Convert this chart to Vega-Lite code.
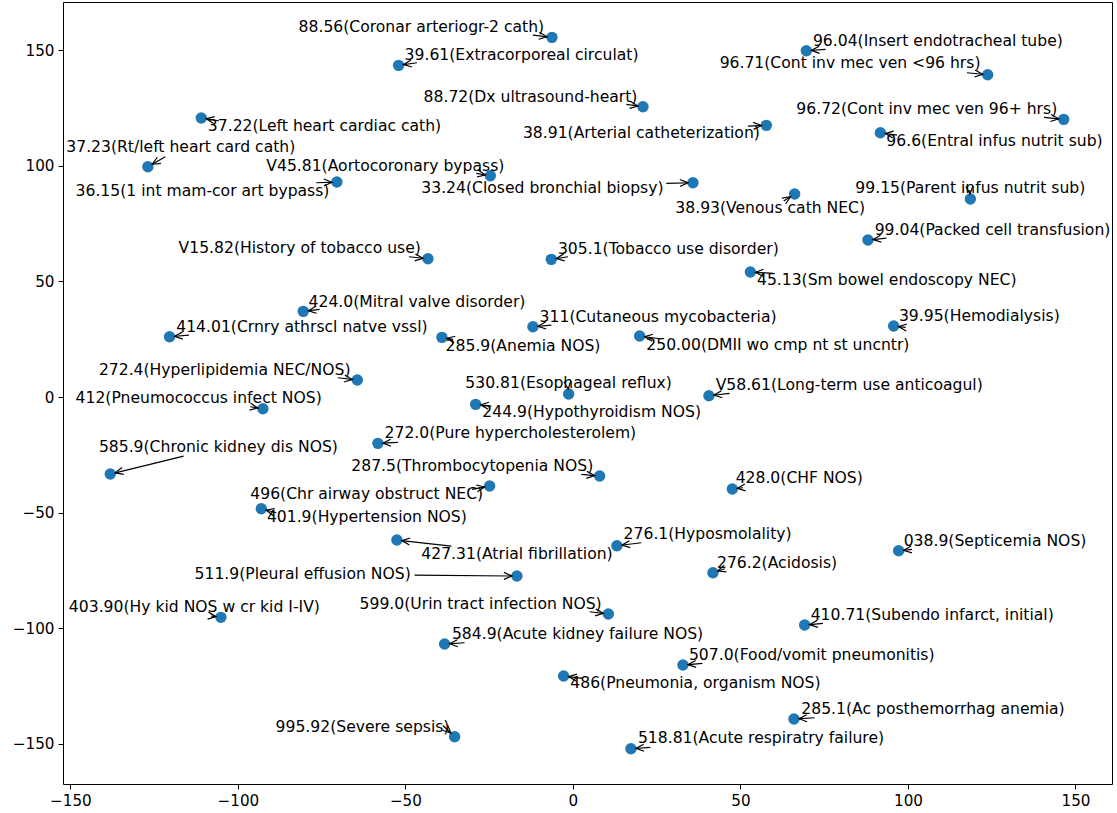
{
  "$schema": "https://vega.github.io/schema/vega-lite/v6.json",
  "width": 1049,
  "height": 782,
  "autosize": {"type": "none"},
  "padding": {"left": 63, "top": 2, "right": 5, "bottom": 29},
  "background": "white",
  "config": {
    "view": {"stroke": "black", "strokeWidth": 1},
    "font": "DejaVu Sans",
    "axis": {"domain": false, "grid": false, "ticks": true, "tickColor": "black", "tickSize": 5, "tickWidth": 1, "labelFont": "DejaVu Sans", "labelFontSize": 15.2, "labelColor": "black", "labelPadding": 4, "title": null}
  },
  "data": {"values": [
    {"label": "88.56(Coronar arteriogr-2 cath)", "x": -6.27, "y": 155.51, "tx": -81.88, "ty": 157.67, "ax": -11.94, "ay": 156.51},
    {"label": "96.04(Insert endotracheal tube)", "x": 69.67, "y": 149.72, "tx": 71.64, "ty": 151.88, "ax": 75.43, "ay": 150.32},
    {"label": "39.61(Extracorporeal circulat)", "x": -52.03, "y": 143.41, "tx": -50.24, "ty": 145.91, "ax": -46.57, "ay": 144.53},
    {"label": "96.71(Cont inv mec ven <96 hrs)", "x": 123.79, "y": 139.34, "tx": 43.79, "ty": 142.11, "ax": 117.61, "ay": 140.21},
    {"label": "88.72(Dx ultrasound-heart)", "x": 20.9, "y": 125.51, "tx": -44.57, "ty": 127.67, "ax": 15.94, "ay": 126.55},
    {"label": "37.22(Left heart cardiac cath)", "x": -110.93, "y": 120.62, "tx": -108.96, "ty": 115.0, "ax": -105.67, "ay": 119.46},
    {"label": "96.72(Cont inv mec ven 96+ hrs)", "x": 146.48, "y": 120.06, "tx": 66.69, "ty": 122.35, "ax": 140.6, "ay": 120.93},
    {"label": "38.91(Arterial catheterization)", "x": 57.73, "y": 117.47, "tx": -14.93, "ty": 111.85, "ax": 52.24, "ay": 117.16},
    {"label": "96.6(Entral infus nutrit sub)", "x": 91.76, "y": 114.27, "tx": 93.55, "ty": 108.65, "ax": 96.72, "ay": 113.27},
    {"label": "37.23(Rt/left heart card cath)", "x": -126.87, "y": 99.57, "tx": -151.22, "ty": 106.05, "ax": -121.67, "ay": 103.89},
    {"label": "V45.81(Aortocoronary bypass)", "x": -24.66, "y": 95.68, "tx": -91.52, "ty": 97.71, "ax": -28.84, "ay": 96.71},
    {"label": "36.15(1 int mam-cor art bypass)", "x": -70.45, "y": 92.95, "tx": -148.45, "ty": 87.03, "ax": -76.6, "ay": 92.65},
    {"label": "33.24(Closed bronchial biopsy)", "x": 35.82, "y": 92.65, "tx": -45.25, "ty": 88.07, "ax": 27.88, "ay": 92.39},
    {"label": "99.15(Parent infus nutrit sub)", "x": 118.63, "y": 85.6, "tx": 84.3, "ty": 88.07, "ax": 118.42, "ay": 89.49},
    {"label": "38.93(Venous cath NEC)", "x": 66.18, "y": 87.77, "tx": 30.57, "ty": 79.68, "ax": 62.9, "ay": 84.74},
    {"label": "99.04(Packed cell transfusion)", "x": 88.06, "y": 67.88, "tx": 90.06, "ty": 70.04, "ax": 93.55, "ay": 68.74},
    {"label": "V15.82(History of tobacco use)", "x": -43.28, "y": 59.79, "tx": -117.7, "ty": 62.13, "ax": -48.96, "ay": 60.66},
    {"label": "305.1(Tobacco use disorder)", "x": -6.45, "y": 59.53, "tx": -4.48, "ty": 61.82, "ax": -1.49, "ay": 60.66},
    {"label": "45.13(Sm bowel endoscopy NEC)", "x": 52.96, "y": 54.04, "tx": 54.93, "ty": 48.42, "ax": 59.7, "ay": 53.48},
    {"label": "424.0(Mitral valve disorder)", "x": -80.48, "y": 37.05, "tx": -78.9, "ty": 39.04, "ax": -75.61, "ay": 37.92},
    {"label": "414.01(Crnry athrscl natve vssl)", "x": -120.39, "y": 26.07, "tx": -118.39, "ty": 28.23, "ax": -114.63, "ay": 26.81},
    {"label": "311(Cutaneous mycobacteria)", "x": -11.94, "y": 30.39, "tx": -9.94, "ty": 32.56, "ax": -6.45, "ay": 31.13},
    {"label": "39.95(Hemodialysis)", "x": 95.73, "y": 30.7, "tx": 97.31, "ty": 32.99, "ax": 99.31, "ay": 30.13},
    {"label": "285.9(Anemia NOS)", "x": -39.1, "y": 25.81, "tx": -38.0, "ty": 20.02, "ax": -35.82, "ay": 24.95},
    {"label": "250.00(DMII wo cmp nt st uncntr)", "x": 19.91, "y": 26.37, "tx": 21.91, "ty": 20.32, "ax": 26.09, "ay": 25.21},
    {"label": "272.4(Hyperlipidemia NEC/NOS)", "x": -64.36, "y": 7.35, "tx": -141.49, "ty": 9.51, "ax": -70.15, "ay": 8.34},
    {"label": "530.81(Esophageal reflux)", "x": -1.28, "y": 1.3, "tx": -32.12, "ty": 3.76, "ax": -1.49, "ay": 4.45},
    {"label": "V58.61(Long-term use anticoagul)", "x": 40.6, "y": 0.56, "tx": 42.6, "ty": 3.03, "ax": 46.78, "ay": 1.6},
    {"label": "412(Pneumococcus infect NOS)", "x": -92.54, "y": -5.06, "tx": -148.45, "ty": -2.72, "ax": -96.3, "ay": -4.19},
    {"label": "244.9(Hypothyroidism NOS)", "x": -29.04, "y": -3.16, "tx": -27.04, "ty": -8.52, "ax": -24.36, "ay": -3.89},
    {"label": "585.9(Chronic kidney dis NOS)", "x": -138.09, "y": -33.29, "tx": -141.49, "ty": -23.65, "ax": -116.21, "ay": -25.51},
    {"label": "272.0(Pure hypercholesterolem)", "x": -58.21, "y": -20.02, "tx": -56.21, "ty": -17.86, "ax": -52.24, "ay": -19.58},
    {"label": "287.5(Thrombocytopenia NOS)", "x": 7.97, "y": -34.15, "tx": -66.15, "ty": -31.99, "ax": 2.51, "ay": -33.42},
    {"label": "428.0(CHF NOS)", "x": 47.58, "y": -39.78, "tx": 48.57, "ty": -37.31, "ax": 50.75, "ay": -39.21},
    {"label": "496(Chr airway obstruct NEC)", "x": -24.87, "y": -38.48, "tx": -96.3, "ty": -44.23, "ax": -30.15, "ay": -39.9},
    {"label": "401.9(Hypertension NOS)", "x": -93.01, "y": -48.29, "tx": -91.34, "ty": -53.91, "ax": -88.54, "ay": -50.02},
    {"label": "276.1(Hyposmolality)", "x": 13.13, "y": -64.29, "tx": 15.13, "ty": -61.52, "ax": 20.42, "ay": -62.99},
    {"label": "038.9(Septicemia NOS)", "x": 97.22, "y": -66.45, "tx": 98.72, "ty": -64.29, "ax": 101.19, "ay": -65.85},
    {"label": "427.31(Atrial fibrillation)", "x": -52.54, "y": -61.82, "tx": -45.25, "ty": -70.17, "ax": -36.3, "ay": -64.42},
    {"label": "276.2(Acidosis)", "x": 41.79, "y": -75.96, "tx": 42.99, "ty": -73.8, "ax": 45.28, "ay": -74.23},
    {"label": "511.9(Pleural effusion NOS)", "x": -16.72, "y": -77.39, "tx": -112.93, "ty": -78.82, "ax": -47.25, "ay": -76.96},
    {"label": "403.90(Hy kid NOS w cr kid I-IV)", "x": -105.07, "y": -95.24, "tx": -150.45, "ty": -92.82, "ax": -107.94, "ay": -94.68},
    {"label": "599.0(Urin tract infection NOS)", "x": 10.57, "y": -93.82, "tx": -63.67, "ty": -91.79, "ax": 4.99, "ay": -92.82},
    {"label": "410.71(Subendo infarct, initial)", "x": 69.16, "y": -98.57, "tx": 70.96, "ty": -96.41, "ax": 74.63, "ay": -97.84},
    {"label": "584.9(Acute kidney failure NOS)", "x": -38.3, "y": -106.79, "tx": -36.12, "ty": -104.63, "ax": -32.33, "ay": -106.23},
    {"label": "507.0(Food/vomit pneumonitis)", "x": 32.84, "y": -115.87, "tx": 34.63, "ty": -113.7, "ax": 38.63, "ay": -115.13},
    {"label": "486(Pneumonia, organism NOS)", "x": -2.78, "y": -120.62, "tx": -0.78, "ty": -125.94, "ax": 2.99, "ay": -121.62},
    {"label": "285.1(Ac posthemorrhag anemia)", "x": 65.97, "y": -139.21, "tx": 68.18, "ty": -137.05, "ax": 72.15, "ay": -138.65},
    {"label": "995.92(Severe sepsis)", "x": -35.31, "y": -146.87, "tx": -88.75, "ty": -144.7, "ax": -38.81, "ay": -142.02},
    {"label": "518.81(Acute respiratry failure)", "x": 17.31, "y": -152.05, "tx": 19.4, "ty": -149.72, "ax": 23.1, "ay": -151.45}
  ]},
  "transform": [
    {"calculate": "atan2((datum.ay - datum.y) * 2.313, (datum.x - datum.ax) * 3.35) * 180 / PI", "as": "arrow_angle"}
  ],
  "layer": [
    {
      "mark": {"type": "rule", "color": "black", "strokeWidth": 1.2},
      "encoding": {
        "x": {"field": "ax", "type": "quantitative", "scale": {"domain": [-152.2, 160.9], "nice": false, "zero": false}, "axis": {"values": [-150, -100, -50, 0, 50, 100, 150]}},
        "y": {"field": "ay", "type": "quantitative", "scale": {"domain": [-167.3, 170.8], "nice": false, "zero": false}, "axis": {"values": [-150, -100, -50, 0, 50, 100, 150]}},
        "x2": {"field": "x"},
        "y2": {"field": "y"}
      }
    },
    {
      "mark": {"type": "circle", "color": "#1f77b4", "opacity": 1, "size": 130},
      "encoding": {
        "x": {"field": "x", "type": "quantitative"},
        "y": {"field": "y", "type": "quantitative"}
      }
    },
    {
      "mark": {"type": "point", "shape": "M-13,-3.5L-5,0L-13,3.5", "size": 4, "filled": false, "stroke": "black", "strokeWidth": 1.2, "opacity": 1},
      "encoding": {
        "x": {"field": "x", "type": "quantitative"},
        "y": {"field": "y", "type": "quantitative"},
        "angle": {"field": "arrow_angle", "type": "quantitative", "scale": null}
      }
    },
    {
      "mark": {"type": "text", "align": "left", "baseline": "alphabetic", "font": "DejaVu Sans", "fontSize": 15.6, "color": "black"},
      "encoding": {
        "x": {"field": "tx", "type": "quantitative"},
        "y": {"field": "ty", "type": "quantitative"},
        "text": {"field": "label", "type": "nominal"}
      }
    }
  ]
}
